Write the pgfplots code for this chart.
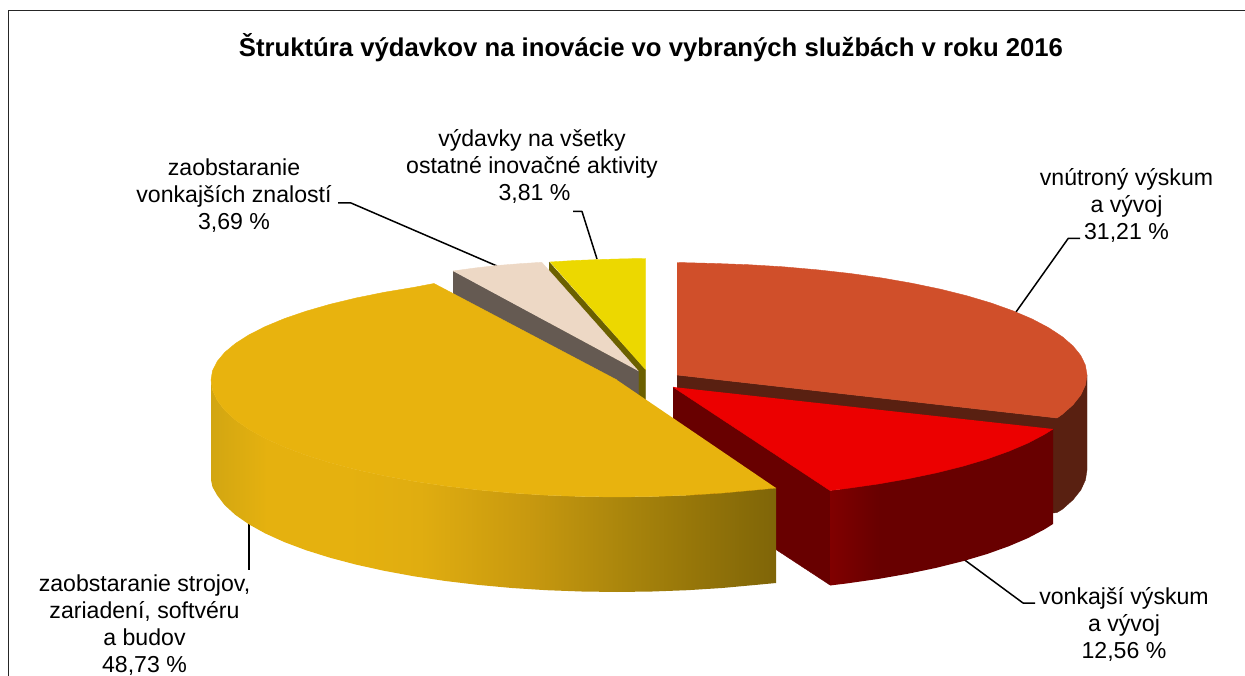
\documentclass[border=0pt]{standalone}
\usepackage{pgfplots}
\pgfplotsset{compat=1.18}
\usepackage{fontspec}
\setmainfont{Liberation Sans}
\definecolor{ga}{HTML}{D2A612}
\definecolor{gb}{HTML}{E5B10F}
\definecolor{gc}{HTML}{E0AD10}
\definecolor{gd}{HTML}{C8990F}
\definecolor{ge}{HTML}{A8840C}
\definecolor{gf}{HTML}{957509}
\definecolor{gg}{HTML}{7F6508}
\definecolor{gtop}{HTML}{E8B30E}
\definecolor{ra}{HTML}{800000}
\definecolor{rb}{HTML}{680000}
\definecolor{rtop}{HTML}{EC0000}
\definecolor{otop}{HTML}{D04F2A}
\definecolor{owall}{HTML}{592011}
\definecolor{tan1}{HTML}{EDD8C5}
\definecolor{gray1}{HTML}{655A52}
\definecolor{yel}{HTML}{ECD800}
\definecolor{oli}{HTML}{6B6000}
\pgfdeclarehorizontalshading{goldwall}{100bp}{color(0bp)=(ga); color(25bp)=(ga); color(30bp)=(gb); color(37bp)=(gb); color(43.5bp)=(gc); color(53bp)=(gd); color(62bp)=(ge); color(68bp)=(gf); color(75bp)=(gg); color(100bp)=(gg)}
\pgfdeclarehorizontalshading{redwall}{100bp}{color(0bp)=(ra); color(25bp)=(ra); color(36bp)=(rb); color(100bp)=(rb)}
\tikzset{lbl/.style={align=center, inner sep=0pt, anchor=center, font=\fontsize{23.1}{27}\selectfont}}
\begin{document}
\begin{tikzpicture}
\useasboundingbox (0,0) rectangle (1245pt,676pt);
\begin{axis}[scale only axis, width=1245pt, height=676pt, xmin=0, xmax=1245, ymin=0, ymax=676, y dir=reverse, hide axis, clip=false, no markers,
  every axis plot/.append style={line join=round, forget plot}]
% frame
\addplot[color=black!85, line width=1.3pt] coordinates {(8.5,676)(8.5,10.5)(1245,10.5)};
% leader lines
\addplot[black, line width=1.5pt] coordinates {(1080,238.3)(1068.3,238.3)(1016,312)};
\addplot[black, line width=1.5pt] coordinates {(962,558)(1023,603)(1035,603)};
\addplot[black, line width=1.5pt] coordinates {(249,520)(249,570)};
\addplot[black, line width=1.5pt] coordinates {(338,203)(351,203)(497,266)};
\addplot[black, line width=1.5pt] coordinates {(573,211.5)(582,211.5)(597,259)};
% yellow
\addplot[fill=oli, draw=oli] coordinates {(549,262)(645.7,370)(645.7,465)(549,357)};
\addplot[fill=yel, draw=yel] coordinates {(550,262)(575,260.5)(600,259.5)(625,258.8)(645.7,258.5)(645.7,370)};
% tan
\addplot[fill=gray1, draw=gray1] coordinates {(453,271)(638.3,371)(638.3,466)(453,366)};
\addplot[fill=tan1, draw=tan1] coordinates {(453,271)(475,268)(497,265.5)(520,263.7)(541.7,262.3)(638.3,371)};
% orange
\addplot[fill=owall, draw=owall] coordinates {(677,375)(1057,418)(1062.3,414.3)(1073,404.8)(1080.8,395)(1085.4,385)(1087,375)(1087,470)(1085.4,480)(1080.8,490)(1073,499.8)(1062.3,509.3)(1057,512.5)(1053,513)(677,470)};
\addplot[fill=otop, draw=otop] coordinates {(677,262.5)(712.8,263.4)(748.2,264.7)(783.1,266.8)(817.2,269.8)(850.3,273.5)(882,278)(912.2,283.3)(940.5,289.2)(966.9,295.8)(991.1,303)(1012.9,310.8)(1032.1,319)(1048.6,327.7)(1062.3,336.7)(1073,346)(1080.8,355.6)(1085.4,365.2)(1087,375)(1085.4,385)(1080.8,395)(1073,404.8)(1062.3,414.3)(1057,418)(677,375)};
% red
\addplot[fill=rb, draw=rb] coordinates {(673,387)(830,490)(830,585)(673,482)};
\addplot[shade, shading=redwall, draw=none] coordinates {(830,490.5)(846.3,488.5)(878,484)(908.2,478.7)(936.5,472.8)(962.9,466.2)(987.1,459)(1008.9,451.2)(1028.1,443)(1044.6,434.3)(1053,429)(1053,524)(1044.6,529.3)(1028.1,538)(1008.9,546.2)(987.1,554)(962.9,561.2)(936.5,567.8)(908.2,573.7)(878,579)(846.3,583.5)(830,585.5)};
\addplot[fill=rtop, draw=rtop] coordinates {(673,387)(830,490.5)(846.3,488.5)(878,484)(908.2,478.7)(936.5,472.8)(962.9,466.2)(987.1,459)(1008.9,451.2)(1028.1,443)(1044.6,434.3)(1053,429)};
% gold
\addplot[shade, shading=goldwall, draw=none] coordinates {(211,380)(212.5,390.2)(217.2,400.3)(224.8,410.3)(235.5,420)(249,429.4)(265.4,438.5)(284.4,447.1)(306,455.2)(329.9,462.7)(356,469.6)(384.1,475.8)(414,481.3)(445.4,486)(478.1,489.9)(511.9,493)(546.5,495.2)(581.6,496.5)(617,497)(652.4,496.5)(687.5,495.2)(722.1,493)(755.9,489.9)(776,488)(776,583)(755.9,584.9)(722.1,588)(687.5,590.2)(652.4,591.5)(617,592)(581.6,591.5)(546.5,590.2)(511.9,588)(478.1,584.9)(445.4,581)(414,576.3)(384.1,570.8)(356,564.6)(329.9,557.7)(306,550.2)(284.4,542.1)(265.4,533.5)(249,524.4)(235.5,515)(224.8,505.3)(217.2,495.3)(212.5,487)(211,480)};
\addplot[fill=gtop, draw=gtop] coordinates {(617,380)(434,283.5)(414,287.3)(384.1,292.3)(356,298)(329.9,304.3)(306,311.2)(284.4,318.6)(265.4,326.5)(249,334.8)(235.5,343.4)(224.8,352.3)(217.2,361.4)(212.5,370.7)(211,380)(212.5,390.2)(217.2,400.3)(224.8,410.3)(235.5,420)(249,429.4)(265.4,438.5)(284.4,447.1)(306,455.2)(329.9,462.7)(356,469.6)(384.1,475.8)(414,481.3)(445.4,486)(478.1,489.9)(511.9,493)(546.5,495.2)(581.6,496.5)(617,497)(652.4,496.5)(687.5,495.2)(722.1,493)(755.9,489.9)(776,488)};
% texts
\node[align=center, inner sep=0pt, font=\fontsize{25.7}{30}\selectfont\bfseries] at (axis cs:651,48) {Štruktúra výdavkov na inovácie vo vybraných službách v roku 2016};
\node[lbl] at (axis cs:1126.5,205.5) {vnútroný výskum\\a vývoj\\31,21 \%};
\node[lbl] at (axis cs:1124,624.5) {vonkajší výskum\\a vývoj\\12,56 \%};
\node[lbl] at (axis cs:144.5,625) {zaobstaranie strojov,\\zariadení, softvéru\\a budov\\48,73 \%};
\node[lbl] at (axis cs:234,196) {zaobstaranie\\vonkajších znalostí\\3,69 \%};
\node[lbl] at (axis cs:532,166.5) {výdavky na všetky\\ostatné inovačné aktivity\\\hspace*{5pt}3,81 \%};
\end{axis}
\end{tikzpicture}
\end{document}
